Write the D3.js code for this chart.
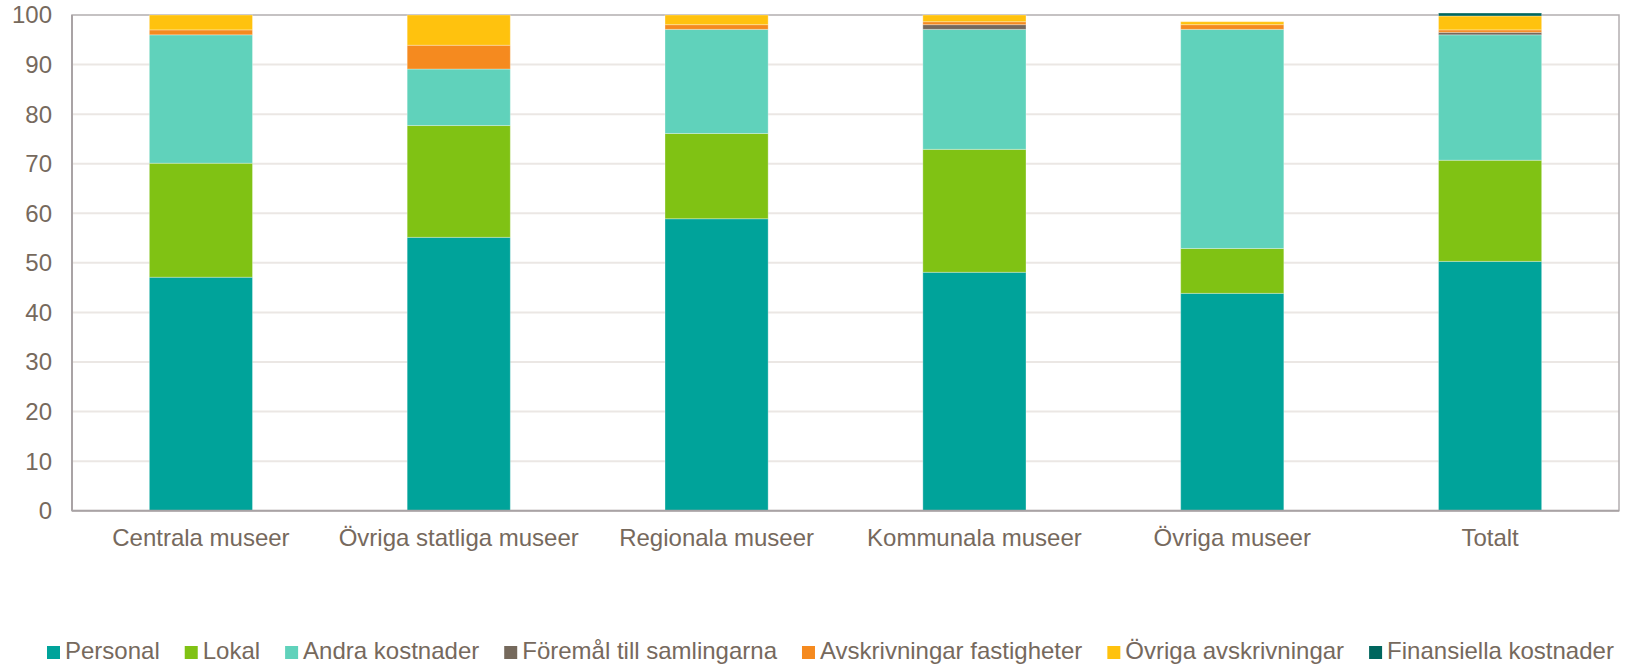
<!DOCTYPE html>
<html>
<head>
<meta charset="utf-8">
<script src="https://cdn.jsdelivr.net/npm/d3@7"></script>
<style>
  body { margin: 0; background: #fff; }
  text { font-family: "Liberation Sans", Arial, sans-serif; fill: #76695d; }
</style>
</head>
<body>
<div id="chart"></div>
<script>
// kategorier och serier (procent av kostnaderna)
var categories = ["Centrala museer", "Övriga statliga museer", "Regionala museer", "Kommunala museer", "Övriga museer", "Totalt"];
var seriesNames = ["Personal", "Lokal", "Andra kostnader", "Föremål till samlingarna", "Avskrivningar fastigheter", "Övriga avskrivningar", "Finansiella kostnader"];
var personal     = [47.1, 55.15, 58.9, 48.1, 43.85, 50.3];
var lokal        = [23.0, 22.55, 17.2, 24.8, 9.05, 20.4];
var andra        = [25.9, 11.4, 21.0, 24.2, 44.2, 25.3];
var foremal      = [0, 0, 0, 0.95, 0, 0.5];
var avskrFast    = [1.0, 4.8, 0.95, 0.6, 0.95, 0.5];
var ovrigaAvskr  = [3.0, 6.1, 1.95, 1.35, 0.6, 2.8];
var finansiella  = [0, 0, 0, 0, 0, 0.6];
var yTicks = [0, 10, 20, 30, 40, 50, 60, 70, 80, 90, 100];
var colors = ["#00a39a", "#80c214", "#60d2bb", "#75695c", "#f58a1f", "#ffc20e", "#00665e"];

var seriesValues = [personal, lokal, andra, foremal, avskrFast, ovrigaAvskr, finansiella];

var width = 1627, height = 666;
var plotLeft = 72, plotRight = 1619, plotTop = 15, plotBottom = 510.7;

var svg = d3.select("#chart").append("svg")
    .attr("width", width)
    .attr("height", height);

var x = d3.scaleBand()
    .domain(categories)
    .range([plotLeft, plotRight])
    .paddingInner(0.6)
    .paddingOuter(0.3);

var y = d3.scaleLinear()
    .domain([0, 100])
    .range([plotBottom, plotTop]);

// gridlines
svg.append("g")
    .selectAll("line")
    .data(yTicks.filter(function(d) { return d > 0 && d < 100; }))
    .enter().append("line")
    .attr("x1", plotLeft).attr("x2", plotRight)
    .attr("y1", function(d) { return y(d); })
    .attr("y2", function(d) { return y(d); })
    .style("stroke", "#ebe7e4")
    .style("stroke-width", 2);

// build stacked table
var table = categories.map(function(c, i) {
    var row = { cat: c };
    seriesNames.forEach(function(s, j) { row[s] = seriesValues[j][i]; });
    return row;
});
var stacked = d3.stack().keys(seriesNames)(table);

// plot area border
svg.append("rect")
    .attr("x", plotLeft).attr("y", plotTop)
    .attr("width", plotRight - plotLeft).attr("height", plotBottom - plotTop)
    .style("fill", "none")
    .style("stroke", "#b3aeb0")
    .style("stroke-width", 1.5);

svg.append("g")
    .selectAll("g")
    .data(stacked)
    .enter().append("g")
    .style("fill", function(d, i) { return colors[i]; })
    .selectAll("rect")
    .data(function(d) { return d; })
    .enter().append("rect")
    .attr("x", function(d) { return x(d.data.cat); })
    .attr("width", x.bandwidth())
    .attr("y", function(d) { return y(d[1]); })
    .attr("height", function(d) { return Math.max(0, y(d[0]) - y(d[1])); })
    .style("stroke", "#ffffff")
    .style("stroke-opacity", function(d) { return (d[1] - d[0]) > 0 ? 0.3 : 0; })
    .style("stroke-width", 1);

// axis lines (left + bottom), drawn over bars
svg.append("line")
    .attr("x1", plotLeft).attr("x2", plotRight)
    .attr("y1", plotBottom).attr("y2", plotBottom)
    .style("stroke", "#a9a3a5").style("stroke-width", 2);
svg.append("line")
    .attr("x1", plotLeft).attr("x2", plotLeft)
    .attr("y1", plotTop).attr("y2", plotBottom)
    .style("stroke", "#a9a3a5").style("stroke-width", 2);

// y tick labels
svg.append("g")
    .selectAll("text")
    .data(yTicks)
    .enter().append("text")
    .attr("x", plotLeft - 20)
    .attr("y", function(d) { return y(d); })
    .attr("dy", "0.35em")
    .attr("text-anchor", "end")
    .style("font-size", "24px")
    .text(function(d) { return d; });

// x labels
svg.append("g")
    .selectAll("text")
    .data(categories)
    .enter().append("text")
    .attr("x", function(d) { return x(d) + x.bandwidth() / 2; })
    .attr("y", 546)
    .attr("text-anchor", "middle")
    .style("font-size", "24px")
    .text(function(d) { return d; });

// legend
var legend = svg.append("g");
var lx = 47;
seriesNames.forEach(function(s, i) {
    legend.append("rect")
        .attr("x", lx).attr("y", 646)
        .attr("width", 13).attr("height", 13)
        .style("fill", colors[i]);
    var t = legend.append("text")
        .attr("x", lx + 18)
        .attr("y", 659)
        .style("font-size", "24px")
        .text(s);
    lx += 18 + t.node().getComputedTextLength() + 25;
});
</script>
</body>
</html>
